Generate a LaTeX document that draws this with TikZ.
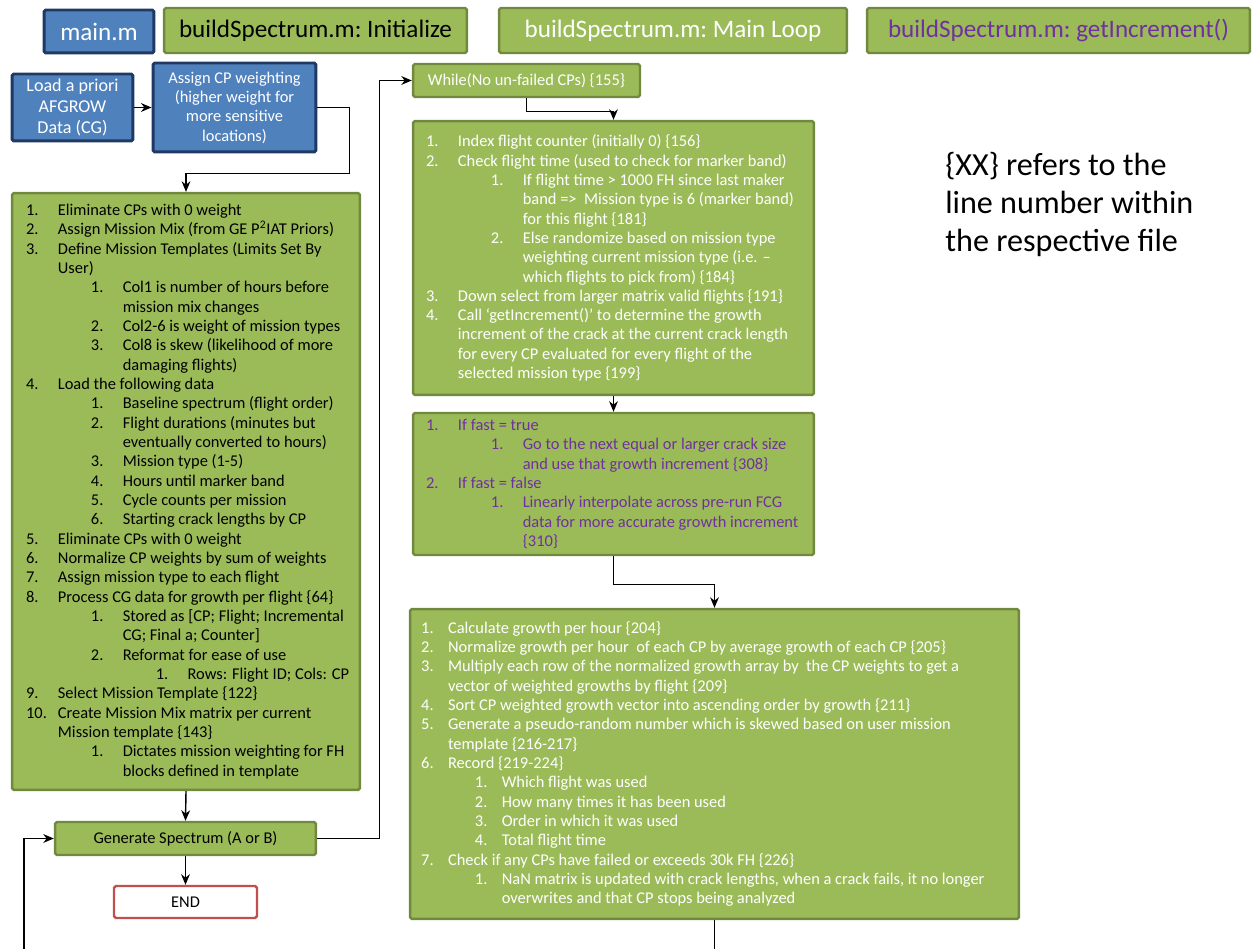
\documentclass[tikz,border=0pt]{standalone}
\usepackage{fontspec}
\setmainfont{Carlito}
\usetikzlibrary{arrows.meta,calc}
\definecolor{gfill}{HTML}{9BBB59}
\definecolor{gdraw}{HTML}{71893F}
\definecolor{bfill}{HTML}{4F81BD}
\definecolor{bdraw}{HTML}{1F3864}
\definecolor{ptext}{HTML}{7030A0}
\definecolor{rdraw}{HTML}{C0504D}
\newlength\lgap \setlength\lgap{18.1pt}
\newlength\lstep \setlength\lstep{36.9pt}
\newcommand\Lone[2]{\makebox[\lgap][l]{#1}#2}
\newcommand\Ltwo[2]{\hspace*{\lstep}\makebox[\lgap][l]{#1}#2}
\newcommand\Lthree[2]{\hspace*{2\lstep}\makebox[\lgap][l]{#1}#2}
\newcommand\Cone[1]{\hspace*{\lgap}#1}
\newcommand\Ctwo[1]{\hspace*{\lstep}\hspace*{\lgap}#1}
\begin{document}
\begin{tikzpicture}[x=0.02cm,y=-0.02cm,
  gbox/.style={draw=gdraw, fill=gfill, line width=1.4pt, rounded corners=1pt, inner sep=0pt},
  bbox/.style={draw=bdraw, fill=bfill, line width=1.7pt, rounded corners=1pt, inner sep=0pt},
  arr/.style={-{Stealth[length=6pt,width=5pt]}, line width=0.8pt},
  ln/.style={line width=0.8pt},
  body/.style={font=\fontsize{9.35}{11}\selectfont, align=left, inner sep=0pt, anchor=west},
  hdr/.style={font=\fontsize{14.3}{16}\selectfont},
  small/.style={font=\fontsize{9.35}{11}\selectfont, align=center},
]
\useasboundingbox (0,0) rectangle (1254,949);

% header
\node[bbox, hdr, text=white, minimum width=2.2cm, minimum height=0.86cm] (mainm) at (99,31.5) {main.m};
\node[gbox, hdr, text=black, minimum width=6.06cm, minimum height=0.9cm] (init) at (315.5,30.5) {buildSpectrum.m:\ Initialize};
\node[gbox, hdr, text=white, minimum width=6.96cm, minimum height=0.9cm] (mainloop) at (673,30.5) {buildSpectrum.m:\ Main Loop};
\node[gbox, hdr, text=ptext, minimum width=7.66cm, minimum height=0.9cm] (getinc) at (1058.5,30.5) {buildSpectrum.m:\ getIncrement()};

% main.m boxes
\node[bbox, font=\fontsize{10.3}{12}\selectfont, align=center, text=white, minimum width=2.42cm, minimum height=1.34cm] (load) at (72.5,107.5) {Load a priori\\AFGROW\\Data (CG)};
\node[bbox, small, text=white, minimum width=3.26cm, minimum height=1.78cm] (assign) at (234.5,107.5) {Assign CP weighting\\(higher weight for\\more sensitive\\locations)};

% initialize box
\node[gbox, minimum width=6.96cm, minimum height=11.94cm] (initbox) at (186,491.5) {};
\node[body, text=black] (inittext) at ([xshift=0.3cm]initbox.west) {%
\Lone{1.}{Eliminate CPs with 0 weight}\\
\Lone{2.}{Assign Mission Mix (from GE P\textsuperscript{2}IAT Priors)}\\
\Lone{3.}{Define Mission Templates (Limits Set By}\\
\Cone{User)}\\
\Ltwo{1.}{Col1 is number of hours before}\\
\Ctwo{mission mix changes}\\
\Ltwo{2.}{Col2-6 is weight of mission types}\\
\Ltwo{3.}{Col8 is skew (likelihood of more}\\
\Ctwo{damaging flights)}\\
\Lone{4.}{Load the following data}\\
\Ltwo{1.}{Baseline spectrum (flight order)}\\
\Ltwo{2.}{Flight durations (minutes but}\\
\Ctwo{eventually converted to hours)}\\
\Ltwo{3.}{Mission type (1-5)}\\
\Ltwo{4.}{Hours until marker band}\\
\Ltwo{5.}{Cycle counts per mission}\\
\Ltwo{6.}{Starting crack lengths by CP}\\
\Lone{5.}{Eliminate CPs with 0 weight}\\
\Lone{6.}{Normalize CP weights by sum of weights}\\
\Lone{7.}{Assign mission type to each flight}\\
\Lone{8.}{Process CG data for growth per flight \{64\}}\\
\Ltwo{1.}{Stored as [CP; Flight; Incremental}\\
\Ctwo{CG; Final a; Counter]}\\
\Ltwo{2.}{Reformat for ease of use}\\
\Lthree{1.}{Rows: Flight ID; Cols: CP}\\
\Lone{9.}{Select Mission Template \{122\}}\\
\Lone{10.}{Create Mission Mix matrix per current}\\
\Cone{Mission template \{143\}}\\
\Ltwo{1.}{Dictates mission weighting for FH}\\
\Ctwo{blocks defined in template}};

\node[gbox, small, text=black, minimum width=5.22cm, minimum height=0.66cm] (gen) at (185.5,838.5) {Generate Spectrum (A or B)};
\node[draw=rdraw, fill=white, line width=1.4pt, rounded corners=1pt, small, minimum width=2.86cm, minimum height=0.64cm] (end) at (185.5,902) {END};

% main loop
\node[gbox, small, text=white, minimum width=4.54cm, minimum height=0.66cm] (while) at (526.5,80.5) {While(No un-failed CPs) \{155\}};

\node[gbox, minimum width=8.02cm, minimum height=5.48cm] (loop1) at (613.5,258) {};
\node[body, text=white] (loop1text) at ([xshift=0.28cm]loop1.west) {%
\Lone{1.}{Index flight counter (initially 0) \{156\}}\\
\Lone{2.}{Check flight time (used to check for marker band)}\\
\Ltwo{1.}{If flight time > 1000 FH since last maker}\\
\Ctwo{band =>\ \ Mission type is 6 (marker band)}\\
\Ctwo{for this flight \{181\}}\\
\Ltwo{2.}{Else randomize based on mission type}\\
\Ctwo{weighting current mission type (i.e. –}\\
\Ctwo{which flights to pick from) \{184\}}\\
\Lone{3.}{Down select from larger matrix valid flights \{191\}}\\
\Lone{4.}{Call ‘getIncrement()’ to determine the growth}\\
\Cone{increment of the crack at the current crack length}\\
\Cone{for every CP evaluated for every flight of the}\\
\Cone{selected mission type \{199\}}};

\node[gbox, minimum width=8.02cm, minimum height=2.84cm] (inc) at (613.5,484) {};
\node[body, text=ptext] (inctext) at ([xshift=0.28cm]inc.west) {%
\Lone{1.}{If fast = true}\\
\Ltwo{1.}{Go to the next equal or larger crack size}\\
\Ctwo{and use that growth increment \{308\}}\\
\Lone{2.}{If fast = false}\\
\Ltwo{1.}{Linearly interpolate across pre-run FCG}\\
\Ctwo{data for more accurate growth increment}\\
\Ctwo{\{310\}}};

\node[gbox, minimum width=12.18cm, minimum height=6.2cm] (loop2) at (714.5,764) {};
\node[body, text=white, font=\fontsize{9.35}{11}\selectfont\setlength\lgap{15.3pt}\setlength\lstep{30.6pt}] (loop2text) at ([xshift=0.24cm]loop2.west) {%
\Lone{1.}{Calculate growth per hour \{204\}}\\
\Lone{2.}{Normalize growth per hour\ \ of each CP by average growth of each CP \{205\}}\\
\Lone{3.}{Multiply each row of the normalized growth array by\ \ the CP weights to get a}\\
\Cone{vector of weighted growths by flight \{209\}}\\
\Lone{4.}{Sort CP weighted growth vector into ascending order by growth \{211\}}\\
\Lone{5.}{Generate a pseudo-random number which is skewed based on user mission}\\
\Cone{template \{216-217\}}\\
\Lone{6.}{Record \{219-224\}}\\
\Ltwo{1.}{Which flight was used}\\
\Ltwo{2.}{How many times it has been used}\\
\Ltwo{3.}{Order in which it was used}\\
\Ltwo{4.}{Total flight time}\\
\Lone{7.}{Check if any CPs have failed or exceeds 30k FH \{226\}}\\
\Ltwo{1.}{NaN matrix is updated with crack lengths, when a crack fails, it no longer}\\
\Ctwo{overwrites and that CP stops being analyzed}};

% note
\node[font=\fontsize{18.3}{21.8}\selectfont, align=left, inner sep=0pt, anchor=west] (note) at (945,204.5) {\{XX\} refers to the\\line number within\\the respective file};

% connectors
\coordinate (loopin) at (24,949);
\coordinate (loopout) at (714.5,949);
\draw[arr] (load.east) -- (assign.west);
\draw[arr] (assign.east) -- ++(32,0) -- ++(0,66) -| (initbox.north);
\draw[arr] (initbox.south) -- (gen.north);
\draw[arr] (gen.south) -- (end.north);
\draw[arr] (loopin) |- (gen.west);
\draw[arr] (gen.east) -- ++(62,0) |- (while.west);
\draw[arr] (while.south) -- ++(0,13) -| (loop1.north);
\draw[arr] (loop1.south) -- (inc.north);
\draw[arr] (inc.south) -- ++(0,28) -| (loop2.north);
\draw[ln] (loop2.south) -- (loopout);
\end{tikzpicture}
\end{document}
